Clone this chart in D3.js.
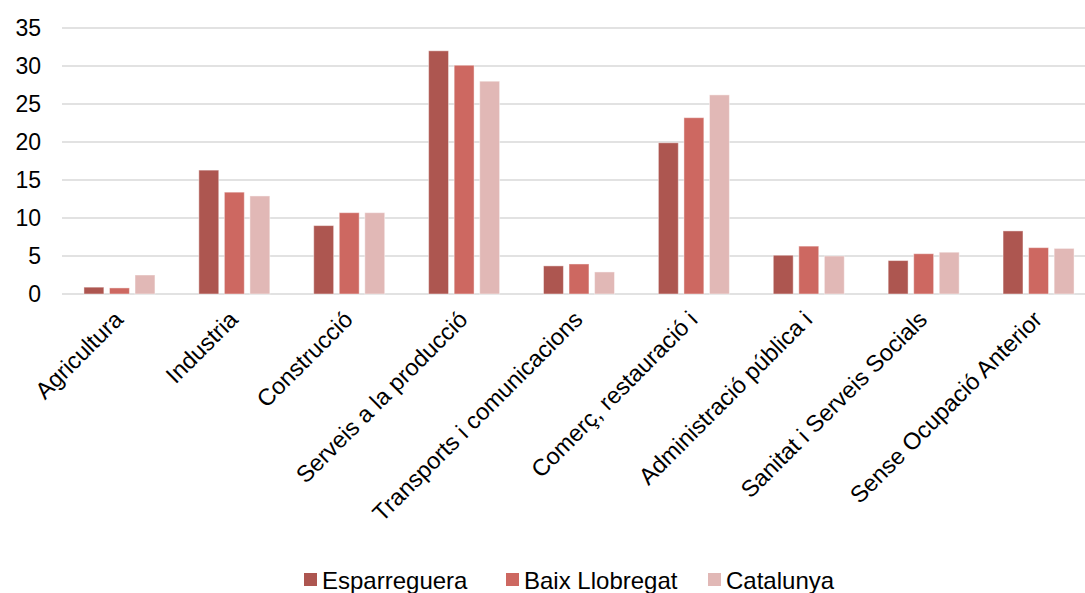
<!DOCTYPE html>
<html><head><meta charset="utf-8">
<script src="https://cdn.jsdelivr.net/npm/d3@7"></script>
<style>
html,body{margin:0;padding:0;background:#fff;overflow:hidden;}
text{font-family:"Liberation Sans",Arial,sans-serif;fill:#000;}
</style></head>
<body><svg id="c" width="1085" height="593"></svg>
<script>
const categories = ["Agricultura","Industria","Construcció","Serveis a la producció","Transports i comunicacions","Comerç, restauració i","Administració pública i","Sanitat i Serveis Socials","Sense Ocupació Anterior"];
const seriesNames = ["Esparreguera","Baix Llobregat","Catalunya"];
const esparreguera = [0.9,16.3,9.0,32.0,3.7,19.9,5.1,4.4,8.3];
const baixLlobregat = [0.8,13.4,10.7,30.1,3.95,23.2,6.3,5.3,6.1];
const catalunya = [2.5,12.9,10.7,28.0,2.9,26.2,5.0,5.5,6.0];
const yTicks = [0,5,10,15,20,25,30,35];
const colors = ["#ad5650","#cd6861","#e1b8b6"];

const seriesValues = [esparreguera, baixLlobregat, catalunya];
const svg = d3.select("#c");
const x = d3.scaleBand().domain(categories).range([62,1096]).paddingInner(0.382).paddingOuter(0.191);
const xs = d3.scaleBand().domain(seriesNames).range([0,x.bandwidth()]).paddingInner(0.22).paddingOuter(0);
const y = d3.scaleLinear().domain([0,35]).range([294,28]);

// gridlines
svg.append("g").selectAll("line").data(yTicks).join("line")
  .attr("x1",62).attr("x2",1096)
  .attr("y1",d=>y(d)).attr("y2",d=>y(d))
  .attr("stroke","#d9d9d9").attr("stroke-width",1.5);

// y labels
svg.append("g").selectAll("text").data(yTicks).join("text")
  .attr("x",41).attr("y",d=>y(d)).attr("dy","0.36em")
  .attr("text-anchor","end").style("font-size","23px").text(d=>d);

// bars
const g = svg.append("g");
seriesNames.forEach((s,si)=>{
  g.append("g").selectAll("rect").data(categories).join("rect")
    .attr("x",(c)=>x(c)+xs(s))
    .attr("width",xs.bandwidth())
    .attr("y",(c,i)=>y(seriesValues[si][i]))
    .attr("height",(c,i)=>y(0)-y(seriesValues[si][i]))
    .attr("fill",colors[si])
    .attr("stroke","rgba(255,255,255,0.45)").attr("stroke-width",1);
});

// x labels
svg.append("g").selectAll("text").data(categories).join("text")
  .attr("transform",c=>`translate(${x(c)+x.bandwidth()/2+5},321) rotate(-45)`)
  .attr("text-anchor","end").style("font-size","23.5px").text(c=>c);

// legend
const legX = [304,506,708];
const leg = svg.append("g");
seriesNames.forEach((s,i)=>{
  leg.append("rect").attr("x",legX[i]).attr("y",573).attr("width",13).attr("height",13).attr("fill",colors[i]);
  leg.append("text").attr("x",legX[i]+18).attr("y",589).style("font-size","24px").text(s);
});
</script></body></html>
